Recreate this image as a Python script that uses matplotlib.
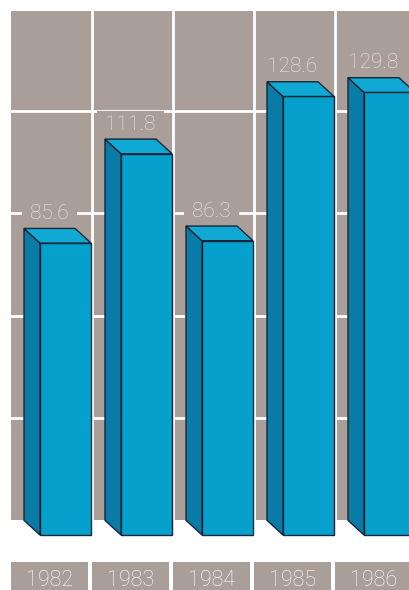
import matplotlib
matplotlib.use('Agg')
import matplotlib.pyplot as plt
from matplotlib.patches import Polygon, Rectangle

years = ['1982', '1983', '1984', '1985', '1986']
values = [85.6, 111.8, 86.3, 128.6, 129.8]
grid_levels = [30, 60, 90, 120]

# colours
TAUPE = '#aa9f98'
FRONT = '#05a0cb'
SIDE = '#087ca6'
TOP = '#10a9d4'
EDGE = '#17243a'
LABEL = '#eeeae6'

# geometry (x: one unit per year column, y: value units)
DX, DY = -0.1975, 4.3          # depth offset of the back plane
BAR_L, BAR_W = -0.142, 0.63    # front face, relative to column centre
PANEL_TOP = 149.3

plt.rcParams['font.family'] = ['Roboto', 'DejaVu Sans']

fig = plt.figure(figsize=(4.10, 5.90), dpi=100)
ax = fig.add_axes([0, 0, 1, 1])
ax.set_xlim(-0.6358, 4.4259)
ax.set_ylim(-16.13, 156.89)
ax.axis('off')

# background panel with white grid
ax.add_patch(Rectangle((-0.5, DY), 6, PANEL_TOP, facecolor=TAUPE,
                       edgecolor='none', zorder=0))
for g in grid_levels:
    ax.plot([-0.5, 5], [g + DY, g + DY], color='white', lw=2.0, zorder=1)
for k in range(1, len(years)):
    ax.plot([k - 0.5, k - 0.5], [DY, PANEL_TOP + DY], color='white',
            lw=2.0, zorder=1)

# 3-D bars: front face via ax.bar, side and top as polygons
xs = [i + BAR_L for i in range(len(values))]
ax.bar(xs, values, BAR_W, align='edge', color=FRONT, edgecolor=EDGE,
       linewidth=1.0, zorder=3)
for x0, v in zip(xs, values):
    x1 = x0 + BAR_W
    side = [(x0, 0), (x0, v), (x0 + DX, v + DY), (x0 + DX, DY)]
    top = [(x0, v), (x1, v), (x1 + DX, v + DY), (x0 + DX, v + DY)]
    ax.add_patch(Polygon(side, closed=True, facecolor=SIDE, edgecolor=EDGE,
                         lw=1.0, zorder=3))
    ax.add_patch(Polygon(top, closed=True, facecolor=TOP, edgecolor=EDGE,
                         lw=1.0, zorder=3))
    ax.text(x0 + DX + BAR_W / 2, v + DY + 4.4, f' {v} ', ha='center',
            va='center', fontsize=15, fontweight='light', color=LABEL,
            zorder=2, bbox=dict(boxstyle='square,pad=0.15', facecolor=TAUPE,
                                edgecolor='none'))

# year boxes along the bottom
for i, yr in enumerate(years):
    ax.add_patch(Rectangle((i - 0.5, -30), 0.951, 30 - 7.9, facecolor=TAUPE,
                           edgecolor='none', zorder=2))
    ax.text(i - 0.025, -13.3, yr, ha='center', va='center', fontsize=15.5,
            fontweight='light', color='white', zorder=3)

fig.savefig('out.png', dpi=100)
